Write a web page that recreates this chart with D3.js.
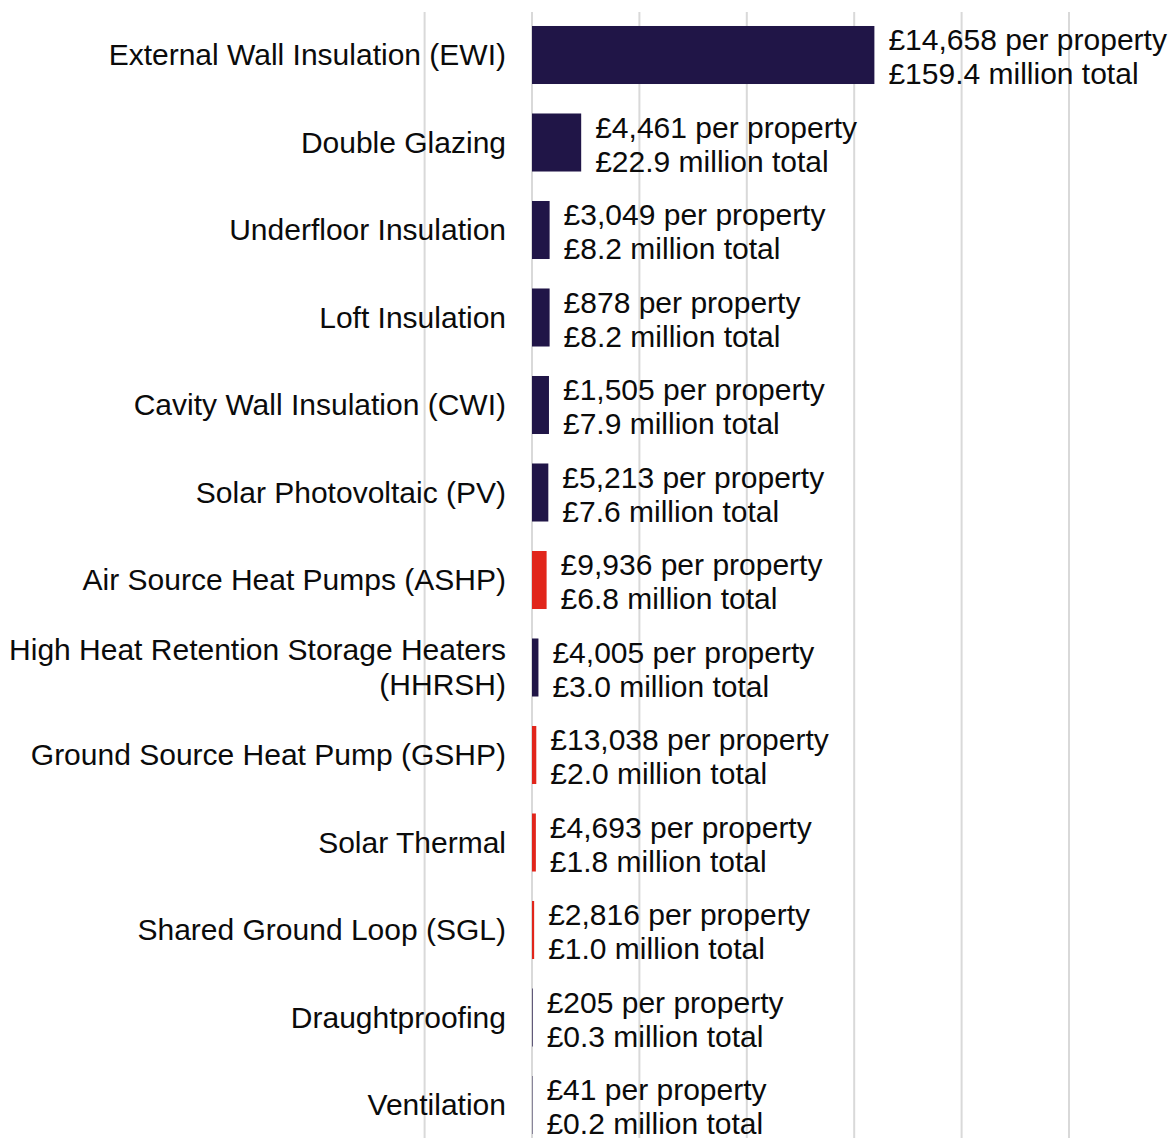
<!DOCTYPE html>
<html>
<head>
<meta charset="utf-8">
<script src="https://cdn.jsdelivr.net/npm/d3@7"></script>
<style>
  html, body { margin: 0; padding: 0; background: #ffffff; }
  svg { display: block; }
  text { font-family: "Liberation Sans", Arial, sans-serif; fill: #0b0b0b; }
</style>
</head>
<body>
<svg id="chart" width="1168" height="1138"></svg>
<script>
// Measures installed, in order of total spend
const measures = [
  "External Wall Insulation (EWI)",
  "Double Glazing",
  "Underfloor Insulation",
  "Loft Insulation",
  "Cavity Wall Insulation (CWI)",
  "Solar Photovoltaic (PV)",
  "Air Source Heat Pumps (ASHP)",
  "High Heat Retention Storage Heaters (HHRSH)",
  "Ground Source Heat Pump (GSHP)",
  "Solar Thermal",
  "Shared Ground Loop (SGL)",
  "Draughtproofing",
  "Ventilation"
];
// Wrapped label lines (only HHRSH wraps)
const measureLines = [
  ["External Wall Insulation (EWI)"],
  ["Double Glazing"],
  ["Underfloor Insulation"],
  ["Loft Insulation"],
  ["Cavity Wall Insulation (CWI)"],
  ["Solar Photovoltaic (PV)"],
  ["Air Source Heat Pumps (ASHP)"],
  ["High Heat Retention Storage Heaters", "(HHRSH)"],
  ["Ground Source Heat Pump (GSHP)"],
  ["Solar Thermal"],
  ["Shared Ground Loop (SGL)"],
  ["Draughtproofing"],
  ["Ventilation"]
];
// Total spend, £ million
const totalMillion = [159.4, 22.9, 8.2, 8.2, 7.9, 7.6, 6.8, 3.0, 2.0, 1.8, 1.0, 0.3, 0.2];
// Average cost per property, £
const perProperty = [14658, 4461, 3049, 878, 1505, 5213, 9936, 4005, 13038, 4693, 2816, 205, 41];
// Measure type: fabric measures vs low-carbon heating
const measureType = ["fabric", "fabric", "fabric", "fabric", "fabric", "fabric", "heat",
                     "fabric", "heat", "heat", "heat", "fabric", "fabric"];
// Gridline positions, £ million
const gridTicks = [-50, 0, 50, 100, 150, 200, 250];

const colour = d3.scaleOrdinal().domain(["fabric", "heat"]).range(["#201547", "#e1251b"]);

const svg = d3.select("#chart");
const W = 1168, H = 1138;
const zeroX = 532;
const pxPerUnit = 107.4 / 50;

const x = d3.scaleLinear()
  .domain([0, 250])
  .range([zeroX, zeroX + 250 * pxPerUnit]);

const y = d3.scaleBand()
  .domain(measures)
  .range([11.25, 1148.75])
  .paddingInner(0.337)
  .paddingOuter(0.1685);

const fontSize = 30;

// Vertical gridlines
svg.append("g")
  .selectAll("line")
  .data(gridTicks)
  .join("line")
  .attr("x1", d => x(d))
  .attr("x2", d => x(d))
  .attr("y1", 12)
  .attr("y2", H)
  .attr("stroke", "#d9d9d9")
  .attr("stroke-width", 2);

const rows = measures.map((m, i) => ({
  name: m,
  lines: measureLines[i],
  total: totalMillion[i],
  per: perProperty[i],
  type: measureType[i]
}));

// Bars
svg.append("g")
  .selectAll("rect")
  .data(rows)
  .join("rect")
  .attr("x", x(0))
  .attr("y", d => y(d.name))
  .attr("width", d => x(d.total) - x(0))
  .attr("height", y.bandwidth())
  .attr("fill", d => colour(d.type));

// Category labels
const catG = svg.append("g").attr("font-size", fontSize).attr("text-anchor", "end");
rows.forEach(d => {
  const c = y(d.name) + y.bandwidth() / 2;
  const t = catG.append("text").attr("x", 506);
  if (d.lines.length === 1) {
    t.append("tspan").attr("x", 506).attr("y", c + 10).text(d.lines[0]);
  } else {
    t.append("tspan").attr("x", 506).attr("y", c - 8).text(d.lines[0]);
    t.append("tspan").attr("x", 506).attr("y", c + 27).text(d.lines[1]);
  }
});

// Value labels
const fmtInt = d3.format(",");
const fmt1 = d3.format(".1f");
const valG = svg.append("g").attr("font-size", fontSize);
rows.forEach(d => {
  const c = y(d.name) + y.bandwidth() / 2;
  const lx = x(d.total) + 14;
  const t = valG.append("text").attr("x", lx);
  t.append("tspan").attr("x", lx).attr("y", c - 5).text("£" + fmtInt(d.per) + " per property");
  t.append("tspan").attr("x", lx).attr("y", c + 29).text("£" + fmt1(d.total) + " million total");
});
</script>
</body>
</html>
